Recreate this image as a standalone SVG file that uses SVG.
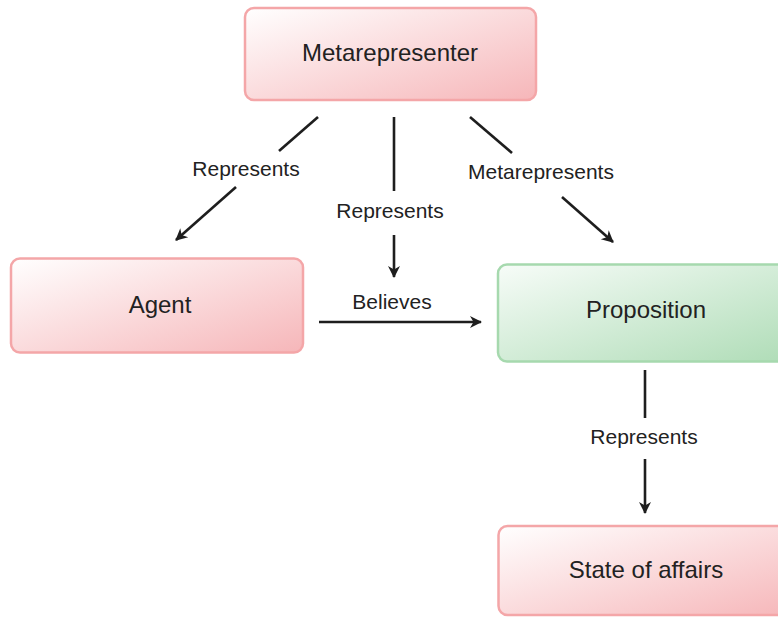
<svg xmlns="http://www.w3.org/2000/svg" width="778" height="617" viewBox="0 0 778 617">
  <style>
    .node-pink rect { fill: url(#gPink); stroke: #f4a6a8; stroke-width: 2.5; }
    .node-green rect { fill: url(#gGreen); stroke: #a6d9ae; stroke-width: 2.5; }
    .node text { font-family: "Liberation Sans", Arial, sans-serif; font-size: 24px; fill: #222; text-anchor: middle; }
    .edge line { stroke: #1e1e1e; stroke-width: 2.6; fill: none; }
    .edge text { font-family: "Liberation Sans", Arial, sans-serif; font-size: 21px; fill: #222; text-anchor: middle; }
  </style>
  <defs>
    <linearGradient id="gPink" x1="0" y1="0" x2="1" y2="1">
      <stop offset="0" stop-color="#ffffff"/>
      <stop offset="1" stop-color="#f6b6b9"/>
    </linearGradient>
    <linearGradient id="gGreen" x1="0" y1="0" x2="1" y2="1">
      <stop offset="0" stop-color="#f7fcf8"/>
      <stop offset="1" stop-color="#aedcb6"/>
    </linearGradient>
    <marker id="arrow" viewBox="0 0 14 14" refX="12" refY="7" markerWidth="14" markerHeight="14" markerUnits="userSpaceOnUse" orient="auto">
      <path d="M1,1 L13,7 L1,13 L4.5,7 z" fill="#1e1e1e"/>
    </marker>
  </defs>

  <rect width="778" height="617" fill="#ffffff"/>

  <!-- nodes -->
  <g id="metarepresenter" class="node node-pink">
    <rect x="245" y="8" width="291" height="92" rx="9"/>
    <text x="390" y="61">Metarepresenter</text>
  </g>
  <g id="agent" class="node node-pink">
    <rect x="11" y="258.5" width="292" height="94" rx="9"/>
    <text x="160" y="313">Agent</text>
  </g>
  <g id="proposition" class="node node-green">
    <rect x="498" y="264.5" width="300" height="97" rx="9"/>
    <text x="646" y="318">Proposition</text>
  </g>
  <g id="state-of-affairs" class="node node-pink">
    <rect x="498.5" y="526" width="300" height="89" rx="9"/>
    <text x="646" y="578">State of affairs</text>
  </g>

  <!-- connectors -->
  <g id="connectors" class="edge">
    <!-- Metarepresenter to Agent -->
    <line x1="318" y1="117" x2="279" y2="151"/>
    <line x1="236" y1="187" x2="176" y2="240" marker-end="url(#arrow)"/>
    <text x="246" y="176">Represents</text>

    <!-- Metarepresenter to Believes link -->
    <line x1="394" y1="117" x2="394" y2="191"/>
    <line x1="394" y1="235" x2="394" y2="277" marker-end="url(#arrow)"/>
    <text x="390" y="218">Represents</text>

    <!-- Metarepresenter to Proposition -->
    <line x1="470" y1="117" x2="512" y2="153"/>
    <line x1="562" y1="197" x2="613" y2="242" marker-end="url(#arrow)"/>
    <text x="541" y="179">Metarepresents</text>

    <!-- Agent to Proposition -->
    <line x1="319" y1="322" x2="481" y2="322" marker-end="url(#arrow)"/>
    <text x="392" y="309">Believes</text>

    <!-- Proposition to State of affairs -->
    <line x1="645" y1="370" x2="645" y2="418"/>
    <line x1="645" y1="459" x2="645" y2="513" marker-end="url(#arrow)"/>
    <text x="644" y="444">Represents</text>
  </g>
</svg>
